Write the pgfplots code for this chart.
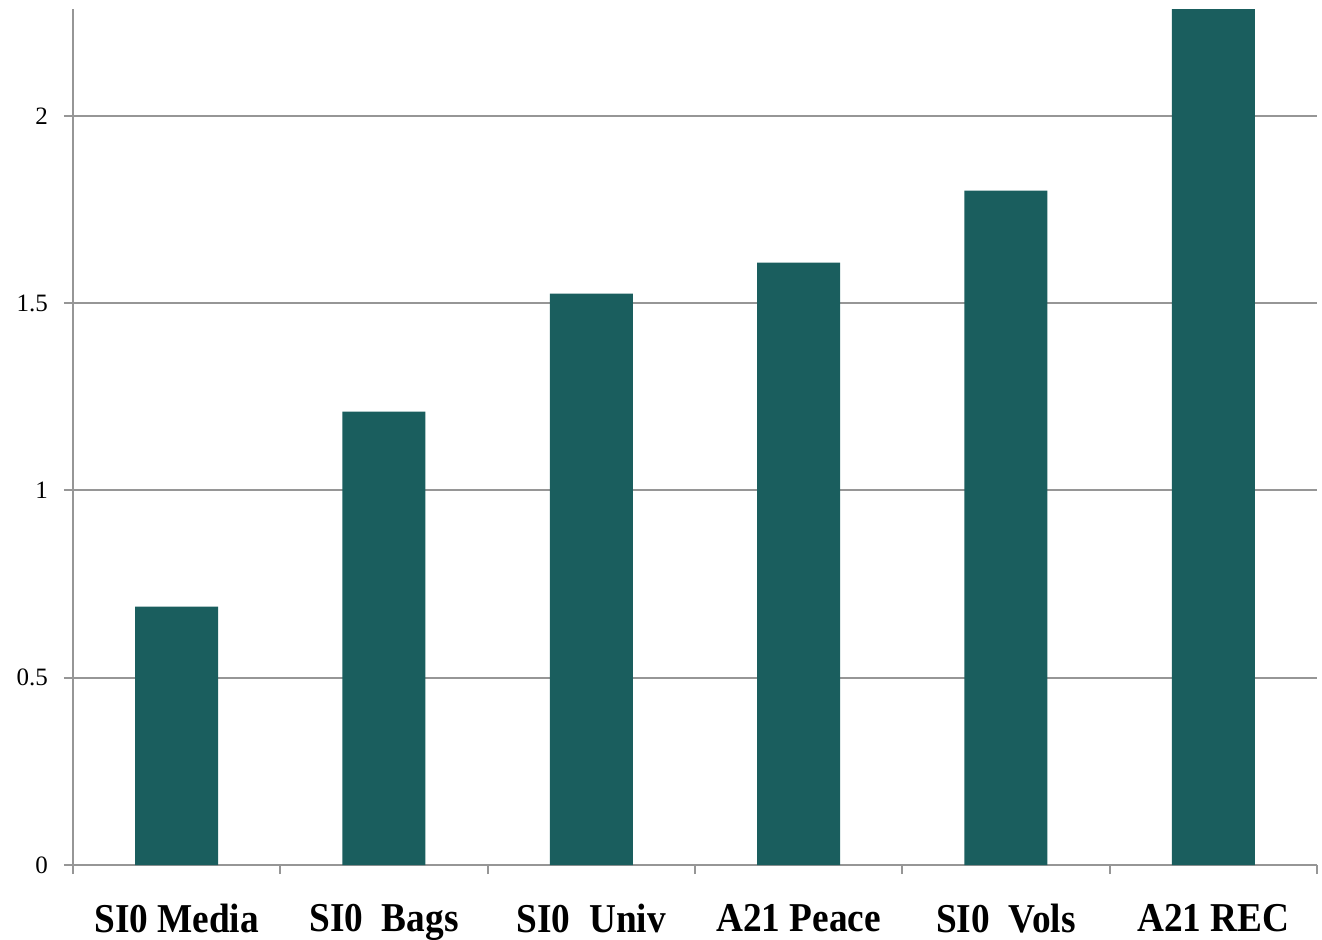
\documentclass[border=0pt]{standalone}
\usepackage{graphicx}
\usepackage{pgfplots}
\pgfplotsset{compat=1.18}
\usepackage{fontspec}
\setmainfont{Liberation Serif}

\definecolor{barteal}{RGB}{26,94,94}
\definecolor{gridgray}{RGB}{150,150,150}

% narrow bold category labels
\newcommand{\catlab}[1]{\scalebox{0.91}[1]{#1}}

\begin{document}
\begin{tikzpicture}
\useasboundingbox (-36.5pt,-37pt) rectangle (624.5pt,432.5pt);
\begin{axis}[
  name=ax,
  at={(0,0)}, anchor=south west,
  scale only axis,
  width=622pt, height=428pt,
  xmin=-0.5, xmax=5.5,
  ymin=0, ymax=2.285,
  axis x line=bottom, axis y line=left,
  axis line style={gridgray, line width=1pt, -},
  tick align=outside,
  major tick length=4.5pt,
  tick style={gridgray, line width=1pt},
  % category boundaries carry the tick marks
  xtick={-0.5,0.5,1.5,2.5,3.5,4.5,5.5},
  xticklabels={},
  % category names sit at the bar centres, without marks
  extra x ticks={0,1,2,3,4,5},
  extra x tick labels={\catlab{SI0 Media}, \catlab{SI0\ \ Bags}, \catlab{SI0\ \ Univ},
                       \catlab{A21 Peace}, \catlab{SI0\ \ Vols}, \catlab{A21 REC}},
  extra x tick style={major tick length=0pt, tick style={draw=none},
                      xticklabel style={font=\fontsize{20.5}{22}\selectfont\bfseries, yshift=-16pt}},
  ytick={0,0.5,1,1.5,2},
  yticklabels={0,0.5,1,1.5,2},
  yticklabel style={font=\fontsize{12.5}{14}\selectfont, xshift=-4.5pt},
  ymajorgrids,
  grid style={gridgray, line width=1pt},
  /pgf/number format/assume math mode=true,
  ybar, bar width=41.5pt,
  clip=true,
]
\addplot[fill=barteal, draw=none] coordinates {
  (0,0.69) (1,1.21) (2,1.525) (3,1.608) (4,1.80) (5,2.30)
};
\end{axis}
\end{tikzpicture}
\end{document}
